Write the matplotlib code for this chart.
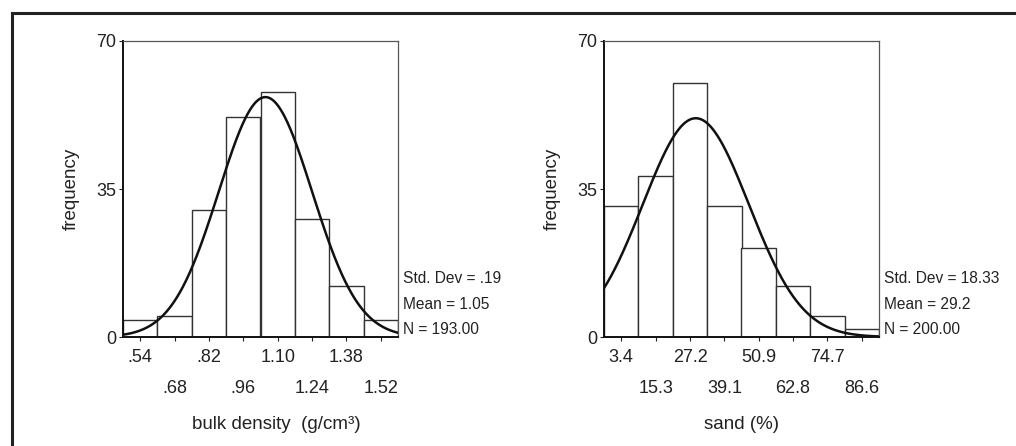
import numpy as np
import matplotlib
matplotlib.use('Agg')
import matplotlib.pyplot as plt
from matplotlib.lines import Line2D

plt.rcParams['font.family'] = ['Liberation Sans', 'DejaVu Sans']

# bulk density histogram
bd_centers = [.54, .68, .82, .96, 1.10, 1.24, 1.38, 1.52]
bd_labels = ['.54', '.68', '.82', '.96', '1.10', '1.24', '1.38', '1.52']
bd_counts = [4, 5, 30, 52, 58, 28, 12, 4]
bd_mean, bd_sd, bd_n = 1.05, 0.19, 193

# sand histogram
sand_centers = [3.4, 15.3, 27.2, 39.1, 50.9, 62.8, 74.7, 86.6]
sand_labels = ['3.4', '15.3', '27.2', '39.1', '50.9', '62.8', '74.7', '86.6']
sand_counts = [31, 38, 60, 31, 21, 12, 5, 2]
sand_mean, sand_sd, sand_n = 29.2, 18.33, 200

stats_bd = ['Std. Dev = .19', 'Mean = 1.05', 'N = 193.00']
stats_sand = ['Std. Dev = 18.33', 'Mean = 29.2', 'N = 200.00']

fig = plt.figure(figsize=(10.16, 4.46), dpi=100)
W, H = 1016, 446


def panel(left_px, centers, labels, counts, mean, sd, n, stats, xlabel, xlab_x):
    ax = fig.add_axes([left_px / W, (H - 337) / H, 275 / W, 296 / H])
    c = np.array(centers)
    bw = (c[-1] - c[0]) / (len(c) - 1)
    ax.bar(c, counts, width=bw, color='white', edgecolor='#333333', linewidth=1.0, zorder=2)
    lo, hi = c[0] - bw / 2, c[-1] + bw / 2
    xs = np.linspace(lo, hi, 400)
    ys = n * bw / (sd * np.sqrt(2 * np.pi)) * np.exp(-0.5 * ((xs - mean) / sd) ** 2)
    ax.plot(xs, ys, color='#111111', linewidth=1.8, zorder=3)
    ax.set_xlim(lo, hi)
    ax.set_ylim(0, 70)

    ax.set_xticks(c[0::2])
    ax.set_xticklabels(labels[0::2])
    ax.set_xticks(c[1::2], minor=True)
    ax.set_xticklabels(labels[1::2], minor=True)
    ax.tick_params(axis='x', which='major', length=3, width=0.8, pad=6, labelsize=13, colors='#222222')
    ax.tick_params(axis='x', which='minor', length=3, width=0.8, pad=28, labelsize=13, colors='#222222')
    ax.set_yticks([0, 35, 70])
    ax.tick_params(axis='y', length=3, width=0.8, pad=2, labelsize=13, colors='#222222')

    for s in ['left', 'bottom']:
        ax.spines[s].set_color('#111111')
        ax.spines[s].set_linewidth(1.4)
    for s in ['top', 'right']:
        ax.spines[s].set_color('#555555')
        ax.spines[s].set_linewidth(0.9)

    for txt, yy in zip(stats, [0.196, 0.111, 0.024]):
        ax.text(1.018, yy, txt, transform=ax.transAxes, ha='left', va='center',
                fontsize=11.2, color='#222222')
    ax.text(-0.189, 0.5, 'frequency', transform=ax.transAxes, rotation=90,
            ha='center', va='center', fontsize=13.5, color='#222222')
    ax.text(xlab_x, -0.297, xlabel, transform=ax.transAxes, ha='center', va='center',
            fontsize=13.5, color='#222222')
    return ax


panel(123, bd_centers, bd_labels, bd_counts, bd_mean, bd_sd, bd_n, stats_bd,
      'bulk density  (g/cm\u00b3)', 0.558)
panel(604, sand_centers, sand_labels, sand_counts, sand_mean, sand_sd, sand_n, stats_sand,
      'sand (%)', 0.5)

# outer frame (top and left edges)
fig.add_artist(Line2D([12 / W, 1], [1 - 13 / H, 1 - 13 / H], transform=fig.transFigure,
                      color='#222222', linewidth=2.2))
fig.add_artist(Line2D([12 / W, 12 / W], [0, 1 - 13 / H], transform=fig.transFigure,
                      color='#222222', linewidth=2.2))

plt.savefig('out.png', dpi=100)
